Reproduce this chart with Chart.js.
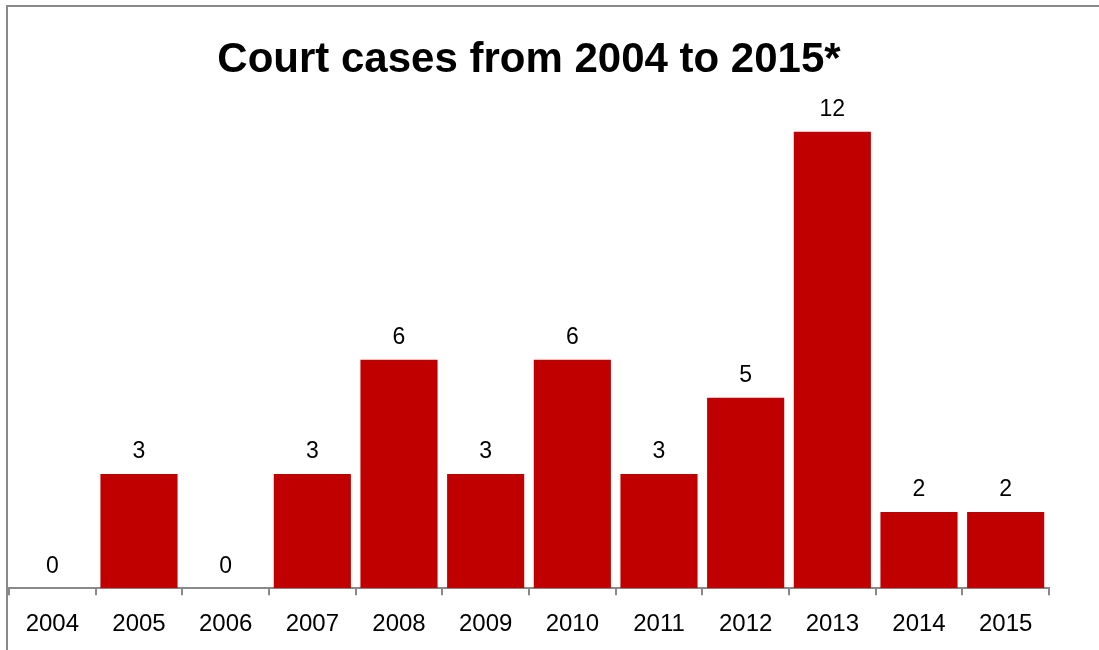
<!DOCTYPE html>
<html>
<head>
<meta charset="utf-8">
<script src="https://cdn.jsdelivr.net/npm/chart.js@4"></script>
<style>
html,body{margin:0;padding:0;background:#fff;}
canvas{display:block;}
</style>
</head>
<body>
<canvas id="c" width="1099" height="650"></canvas>
<script>
const categories = ['2004','2005','2006','2007','2008','2009','2010','2011','2012','2013','2014','2015'];
const cases = [0,3,0,3,6,3,6,3,5,12,2,2];
const titleText = 'Court cases from 2004 to 2015*';

const FONT = "'Liberation Sans', Arial, sans-serif";

const framePlugin = {
  id: 'frame',
  beforeDraw(chart) {
    const ctx = chart.ctx;
    ctx.save();
    ctx.fillStyle = '#fff';
    ctx.fillRect(0, 0, chart.width, chart.height);
    ctx.strokeStyle = '#898989';
    ctx.lineWidth = 2;
    ctx.beginPath();
    ctx.moveTo(7, chart.height);
    ctx.lineTo(7, 6);
    ctx.lineTo(chart.width, 6);
    ctx.stroke();
    ctx.restore();
  }
};

const labelPlugin = {
  id: 'valueLabels',
  afterDatasetsDraw(chart) {
    const ctx = chart.ctx;
    const meta = chart.getDatasetMeta(0);
    ctx.save();
    ctx.font = "23px " + FONT;
    ctx.fillStyle = '#000';
    ctx.textAlign = 'center';
    ctx.textBaseline = 'middle';
    meta.data.forEach((bar, i) => {
      ctx.fillText(String(cases[i]), bar.x, bar.y - 22);
    });
    ctx.restore();
  }
};

new Chart(document.getElementById('c'), {
  type: 'bar',
  data: {
    labels: categories,
    datasets: [{
      data: cases,
      backgroundColor: '#C00000',
      borderWidth: 0,
      barPercentage: 0.89,
      categoryPercentage: 1.0
    }]
  },
  options: {
    responsive: false,
    animation: false,
    devicePixelRatio: 1,
    layout: { padding: { left: 9, right: 50, top: 0, bottom: -4 } },
    plugins: {
      legend: { display: false },
      tooltip: { enabled: false },
      title: {
        display: true,
        text: titleText,
        color: '#000',
        font: { family: FONT, size: 42, weight: 'bold', lineHeight: 1.2 },
        padding: { top: 35, bottom: 46 }
      }
    },
    scales: {
      y: {
        display: false,
        min: 0,
        max: 12
      },
      x: {
        grid: {
          offset: true,
          drawOnChartArea: false,
          drawTicks: true,
          tickLength: 7,
          color: '#898989',
          lineWidth: 2
        },
        border: { display: true, color: '#898989', width: 2 },
        ticks: {
          color: '#000',
          font: { family: FONT, size: 24 },
          padding: 15,
          maxRotation: 0
        }
      }
    }
  },
  plugins: [framePlugin, labelPlugin]
});
</script>
</body>
</html>
